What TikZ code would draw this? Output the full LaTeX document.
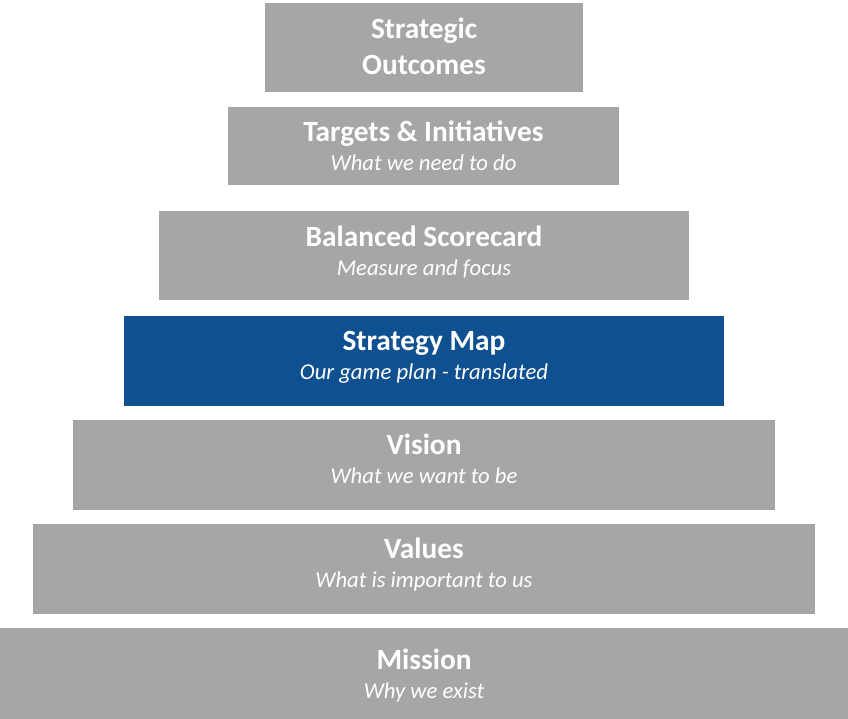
\documentclass[tikz,border=0pt]{standalone}
\usepackage{fontspec}
\setmainfont{Carlito}
\usepackage{xcolor}
\definecolor{tiergray}{HTML}{A6A6A6}
\definecolor{mapblue}{HTML}{0E5090}
\newcommand{\tiersub}[1]{{\fontsize{17}{21.75}\selectfont\mdseries\itshape #1}}

\begin{document}
\begin{tikzpicture}[x=0.75pt,y=-0.75pt,
    tier/.style={fill=tiergray, text=white, align=center, inner sep=0pt,
      text height=39.75pt, text depth=12.75pt,
      font=\fontsize{22}{21.75}\selectfont\bfseries}]
  \useasboundingbox (0,0) rectangle (848,718);

  % Stufen der Pyramide
  \node[tier, text height=45pt, text depth=4.5pt, minimum width=318*0.75pt, minimum height=89*0.75pt] (outcomes) at (424,47.5)
    {Strategic\\[5.25pt]Outcomes};
  \node[tier, text depth=3.75pt, minimum width=391*0.75pt, minimum height=78*0.75pt] (targets) at (423.5,146)
    {Targets \& Initiatives\\\tiersub{What we need to do}};
  \node[tier, text depth=9.75pt, minimum width=530*0.75pt, minimum height=89*0.75pt] (scorecard) at (424,255.5)
    {Balanced Scorecard\\\tiersub{Measure and focus}};
  \node[tier, fill=mapblue, minimum width=600*0.75pt, minimum height=90*0.75pt] (map) at (424,361)
    {Strategy Map\\\tiersub{Our game plan - translated}};
  \node[tier, minimum width=702*0.75pt, minimum height=90*0.75pt] (vision) at (424,465)
    {Vision\\\tiersub{What we want to be}};
  \node[tier, minimum width=782*0.75pt, minimum height=90*0.75pt] (values) at (424,569)
    {Values\\\tiersub{What is important to us}};
  \node[tier, text depth=14.25pt, minimum width=848*0.75pt, minimum height=106*0.75pt] (mission) at (424,681)
    {Mission\\\tiersub{Why we exist}};
\end{tikzpicture}
\end{document}
